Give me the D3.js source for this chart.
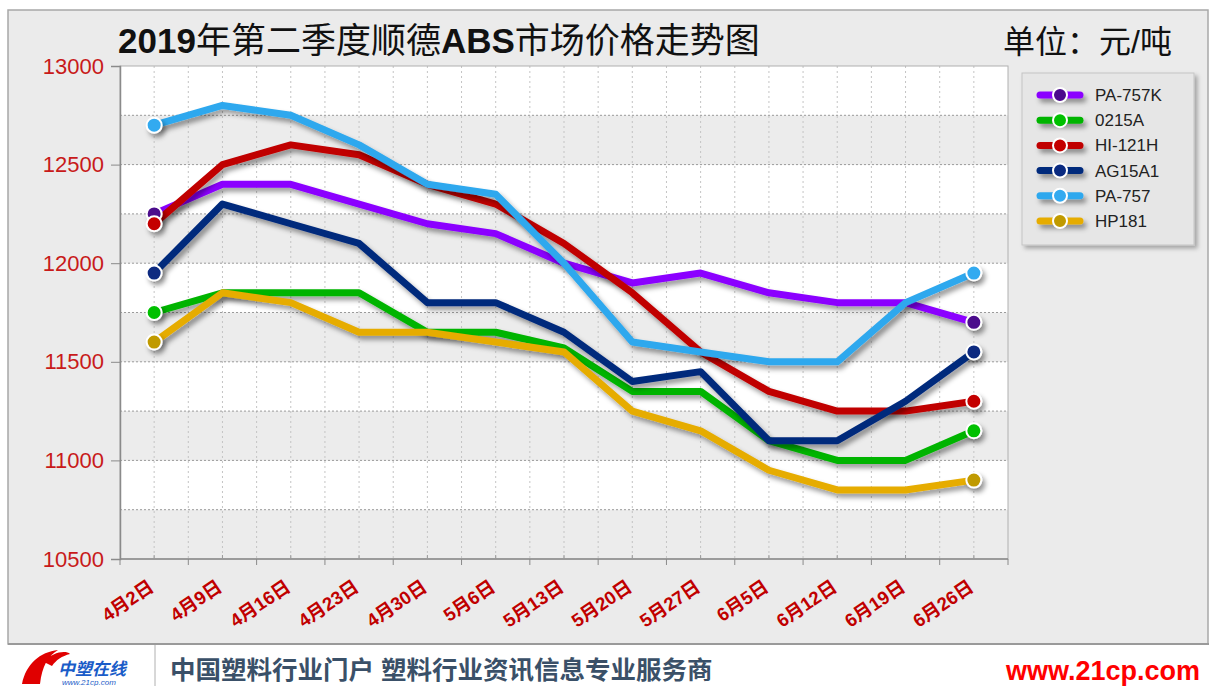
<!DOCTYPE html>
<html>
<head>
<meta charset="utf-8">
<script src="https://cdn.jsdelivr.net/npm/d3@7"></script>
<style>
  body { margin: 0; background: #fff; }
  svg { display: block; font-family: "Liberation Sans", Arial, "Noto Sans CJK SC", sans-serif; }
</style>
</head>
<body>
<div id="chart"></div>
<script>
// categories and series
var dates = ["4月2日", "4月9日", "4月16日", "4月23日", "4月30日", "5月6日", "5月13日",
             "5月20日", "5月27日", "6月5日", "6月12日", "6月19日", "6月26日"];
var names = ["PA-757K", "0215A", "HI-121H", "AG15A1", "PA-757", "HP181"];
var pa757k = [12250, 12400, 12400, 12300, 12200, 12150, 12000, 11900, 11950, 11850, 11800, 11800, 11700];
var s0215a = [11750, 11850, 11850, 11850, 11650, 11650, 11570, 11350, 11350, 11100, 11000, 11000, 11150];
var hi121h = [12200, 12500, 12600, 12550, 12400, 12300, 12100, 11850, 11550, 11350, 11250, 11250, 11300];
var ag15a1 = [11950, 12300, 12200, 12100, 11800, 11800, 11650, 11400, 11450, 11100, 11100, 11300, 11550];
var pa757  = [12700, 12800, 12750, 12600, 12400, 12350, 12000, 11600, 11550, 11500, 11500, 11800, 11950];
var hp181  = [11600, 11850, 11800, 11650, 11650, 11600, 11550, 11250, 11150, 10950, 10850, 10850, 10900];
var yTicks = [10500, 11000, 11500, 12000, 12500, 13000];

var lineColors = ["#8b00ff", "#00b400", "#c00000", "#002a7c", "#2ea8ee", "#e6ac00"];
var dotColors  = ["#4b0a8c", "#00c000", "#c40000", "#0a2a80", "#33aaf0", "#c09a00"];
var series = [pa757k, s0215a, hi121h, ag15a1, pa757, hp181].map(function(v, i) {
    return {name: names[i], values: v, line: lineColors[i], dot: dotColors[i]};
});

var W = 1209, H = 686;
var pLeft = 120, pRight = 1008, pTop = 66, pBottom = 559;

var svg = d3.select("#chart").append("svg")
    .attr("width", W).attr("height", H);

var defs = svg.append("defs");
var f = defs.append("filter").attr("id", "shadow").attr("filterUnits", "userSpaceOnUse")
    .attr("x", 0).attr("y", 0).attr("width", W).attr("height", H);
f.append("feDropShadow").attr("dx", 3).attr("dy", 4).attr("stdDeviation", 2.5)
    .attr("flood-color", "#000").attr("flood-opacity", 0.4);
var f2 = defs.append("filter").attr("id", "boxshadow").attr("filterUnits", "userSpaceOnUse")
    .attr("x", 0).attr("y", 0).attr("width", W).attr("height", H);
f2.append("feDropShadow").attr("dx", 3).attr("dy", 3).attr("stdDeviation", 2)
    .attr("flood-color", "#000").attr("flood-opacity", 0.3);

// grey panel + white footer
svg.append("rect").attr("x", 8).attr("y", 10).attr("width", 1200).attr("height", 634)
    .attr("fill", "#ebebeb").attr("stroke", "#a8a8a8").attr("stroke-width", 1.5);
svg.append("line").attr("x1", 8).attr("x2", 1209).attr("y1", 644).attr("y2", 644)
    .attr("stroke", "#9a9a9a").attr("stroke-width", 2);

// scales
var x = d3.scaleBand().domain(dates).range([pLeft, pRight]);
var cx = function(d) { return x(d) + x.bandwidth() / 2; };
var y = d3.scaleLinear().domain([10500, 13000]).range([pBottom, pTop]);

// alternating bands every 250
var bands = d3.range(10500, 13000, 250);
svg.append("g").selectAll("rect").data(bands).enter().append("rect")
    .attr("x", pLeft).attr("width", pRight - pLeft)
    .attr("y", function(d) { return y(d + 250); })
    .attr("height", function(d) { return y(d) - y(d + 250); })
    .attr("fill", function(d, i) { return i % 2 == 0 ? "#ececec" : "#ffffff"; });

// vertical dotted grid: centres and band edges
var vx = [];
dates.forEach(function(d) { vx.push(x(d)); vx.push(cx(d)); });
svg.append("g").selectAll("line").data(vx.slice(1)).enter().append("line")
    .attr("x1", function(d) { return d; }).attr("x2", function(d) { return d; })
    .attr("y1", pTop).attr("y2", pBottom)
    .attr("stroke", "#c4c4c4").attr("stroke-width", 1).attr("stroke-dasharray", "2,3");

// horizontal dotted grid
svg.append("g").selectAll("line").data(bands.slice(1)).enter().append("line")
    .attr("x1", pLeft).attr("x2", pRight)
    .attr("y1", function(d) { return y(d); }).attr("y2", function(d) { return y(d); })
    .attr("stroke", "#9a9a9a").attr("stroke-width", 1).attr("stroke-dasharray", "2,2");

// plot border
svg.append("rect").attr("x", pLeft).attr("y", pTop).attr("width", pRight - pLeft).attr("height", pBottom - pTop)
    .attr("fill", "none").attr("stroke", "#b0b0b0");

// y axis
var yAxis = svg.append("g")
    .attr("transform", "translate(" + pLeft + ",0)")
    .call(d3.axisLeft(y).tickValues(yTicks).tickSize(9).tickPadding(7).tickFormat(d3.format("d")));
yAxis.select(".domain").attr("stroke", "#8a8a8a").attr("stroke-width", 1.5);
yAxis.selectAll(".tick line").attr("stroke", "#8a8a8a");
yAxis.selectAll(".tick text").attr("fill", "#c81a1a")
    .style("font-size", "22px").style("font-family", "'Liberation Sans', Arial, sans-serif");

// x axis line and ticks
var xg = svg.append("g");
xg.append("line").attr("x1", pLeft).attr("x2", pRight).attr("y1", pBottom).attr("y2", pBottom)
    .attr("stroke", "#8a8a8a").attr("stroke-width", 1.5);
var edges = dates.map(function(d) { return x(d); }).concat([pRight]);
xg.selectAll(".maj").data(edges).enter().append("line")
    .attr("x1", function(d) { return d; }).attr("x2", function(d) { return d; })
    .attr("y1", pBottom).attr("y2", pBottom + 6).attr("stroke", "#8a8a8a");
xg.selectAll(".mnr").data(dates).enter().append("line")
    .attr("x1", cx).attr("x2", cx)
    .attr("y1", pBottom - 4).attr("y2", pBottom).attr("stroke", "#9a9a9a");
xg.selectAll("text").data(dates).enter().append("text")
    .attr("transform", function(d) { return "translate(" + (cx(d) + 1) + "," + (pBottom + 31) + ") rotate(-34)"; })
    .attr("text-anchor", "end")
    .attr("fill", "#c00000")
    .style("font-size", "18.5px").style("font-weight", "bold")
    .text(function(d) { return d; });

// lines
var line = d3.line()
    .x(function(d, i) { return cx(dates[i]); })
    .y(function(d) { return y(d); });

var lg = svg.append("g");
series.forEach(function(s) {
    lg.append("path")
        .attr("d", line(s.values))
        .attr("fill", "none")
        .attr("stroke", s.line)
        .attr("stroke-width", 7)
        .attr("stroke-linejoin", "round")
        .attr("filter", "url(#shadow)");
});
// end markers on top
series.forEach(function(s) {
    [0, s.values.length - 1].forEach(function(i) {
        lg.append("circle")
            .attr("cx", cx(dates[i])).attr("cy", y(s.values[i])).attr("r", 7.5)
            .attr("fill", s.dot).attr("stroke", "#fff").attr("stroke-width", 2)
            .attr("filter", "url(#shadow)");
    });
});

// legend
var leg = svg.append("g");
leg.append("rect").attr("x", 1022).attr("y", 73).attr("width", 172).attr("height", 172)
    .attr("fill", "#e6e6e6").attr("stroke", "#c4c4c4").attr("filter", "url(#boxshadow)");
series.forEach(function(s, i) {
    var ly = 95 + i * 25.2;
    leg.append("line").attr("x1", 1040).attr("x2", 1080).attr("y1", ly).attr("y2", ly)
        .attr("stroke", s.line).attr("stroke-width", 7).attr("stroke-linecap", "round")
        .attr("filter", "url(#shadow)");
    leg.append("circle").attr("cx", 1060).attr("cy", ly).attr("r", 7)
        .attr("fill", s.dot).attr("stroke", "#fff").attr("stroke-width", 2);
    leg.append("text").attr("x", 1095).attr("y", ly + 6)
        .style("font-size", "17px").attr("fill", "#222").text(s.name);
});

// title
var title = svg.append("text").attr("x", 118).attr("y", 53)
    .style("font-size", "35px").attr("fill", "#111");
[["2019", "bold"], ["年第二季度顺德", "normal"], ["ABS", "bold"], ["市场价格走势图", "normal"]]
    .forEach(function(p) {
        title.append("tspan").style("font-weight", p[1]).text(p[0]);
    });
svg.append("text").attr("x", 1172).attr("y", 53).attr("text-anchor", "end")
    .style("font-size", "32px").attr("fill", "#111").text("单位：元/吨");

// footer
var ft = svg.append("g");
ft.append("line").attr("x1", 155).attr("x2", 155).attr("y1", 645).attr("y2", 686)
    .attr("stroke", "#b0b0b0");
ft.append("path")
    .attr("d", "M22,684 C26,664 40,652 58,650 C48,656 42,666 40,684 Z M44,662 C52,652 66,650 70,654 C62,656 56,660 52,666 Z")
    .attr("fill", "#e00000");
ft.append("text").attr("x", 58).attr("y", 675)
    .style("font-size", "17px").style("font-weight", "bold").style("font-style", "italic")
    .attr("fill", "#1a5cc8").text("中塑在线");
ft.append("text").attr("x", 62).attr("y", 685)
    .style("font-size", "8px").style("font-style", "italic")
    .attr("fill", "#1a5cc8").text("www.21cp.com");
ft.append("text").attr("x", 170).attr("y", 679)
    .style("font-size", "25.5px").style("font-weight", "bold")
    .attr("fill", "#3a5068").text("中国塑料行业门户 塑料行业资讯信息专业服务商");
ft.append("text").attr("x", 1200).attr("y", 680).attr("text-anchor", "end")
    .style("font-size", "27px").style("font-weight", "bold")
    .attr("fill", "#ff0000").text("www.21cp.com");
</script>
</body>
</html>
